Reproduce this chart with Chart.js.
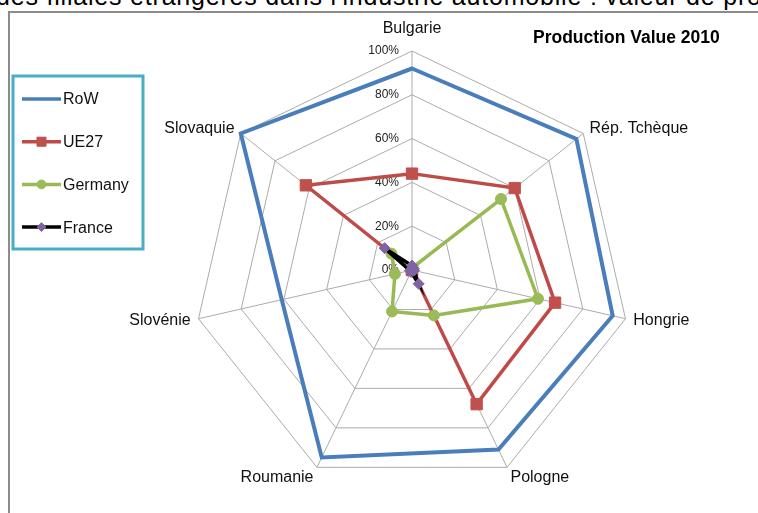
<!DOCTYPE html>
<html>
<head>
<meta charset="utf-8">
<title>Production Value 2010</title>
<script src="https://cdn.jsdelivr.net/npm/chart.js@4.4.0/dist/chart.umd.min.js"></script>
<style>
  html, body { margin: 0; padding: 0; background: #fff; }
  body {
    width: 758px; height: 513px; position: relative; overflow: hidden;
    font-family: "Liberation Sans", Arial, sans-serif; color: #000;
  }
  #topText {
    position: absolute; left: -4px; top: -16px;
    font-size: 25px; line-height: 25px; letter-spacing: 0.8px; white-space: nowrap;
  }
  #frame {
    position: absolute; left: 8px; top: 11px; width: 800px; height: 600px;
    border-left: 2px solid #8c8c8c; border-top: 2px solid #8c8c8c;
  }
  #title {
    position: absolute; left: 533px; top: 27px;
    font-weight: bold; font-size: 17.5px; white-space: nowrap;
  }
  canvas { position: absolute; left: 0; top: 0; }
</style>
</head>
<body>
<div id="topText">des filiales étrangères dans l'industrie automobile : valeur de production</div>
<div id="frame"></div>
<canvas id="myChart" width="758" height="513"></canvas>
<div id="title">Production Value 2010</div>

<script>
// Countries, clockwise from the top
const labels = ['Bulgarie', 'Rép. Tchèque', 'Hongrie', 'Pologne', 'Roumanie', 'Slovénie', 'Slovaquie'];

// Share of production value (%)
const rowValues = [92, 96, 94, 91, 95, 61, 100];
const ue27Values = [44, 60, 67, 68, 0, 0, 62];
const germanyValues = [1, 52, 59, 23, 21, 8, 12];
const franceValues = [2, 1, 1, 7, 1, 1, 16];

// Radial axis ticks
const tickMin = 0;
const tickMax = 100;
const tickStep = 20;

const seriesNames = ['RoW', 'UE27', 'Germany', 'France'];

// Tick labels drawn to the left of the vertical axis (Excel style)
const tickLabelPlugin = {
  id: 'tickLabels',
  beforeDatasetsDraw(chart) {
    const scale = chart.scales.r;
    const ctx = chart.ctx;
    ctx.save();
    ctx.font = '12px "Liberation Sans", Arial, sans-serif';
    ctx.fillStyle = '#222';
    ctx.textAlign = 'right';
    ctx.textBaseline = 'middle';
    scale.ticks.forEach((tick) => {
      const r = scale.getDistanceFromCenterForValue(tick.value);
      ctx.fillText(tick.label, scale.xCenter - 13, scale.yCenter - r);
    });
    ctx.restore();
  }
};

// Country names around the outer polygon
const pointLabelPlugin = {
  id: 'countryLabels',
  afterDraw(chart) {
    const scale = chart.scales.r;
    const ctx = chart.ctx;
    ctx.save();
    ctx.font = '16px "Liberation Sans", Arial, sans-serif';
    ctx.fillStyle = '#111';
    ctx.textBaseline = 'middle';
    chart.data.labels.forEach((label, i) => {
      const p = scale.getPointPosition(i, scale.drawingArea + 8);
      let y = p.y;
      if (p.x > scale.xCenter + 5) ctx.textAlign = 'left';
      else if (p.x < scale.xCenter - 5) ctx.textAlign = 'right';
      else ctx.textAlign = 'center';
      if (p.y < scale.yCenter - scale.drawingArea) y -= 14;
      if (p.y > scale.yCenter + scale.drawingArea * 0.8) y += 3;
      ctx.fillText(label, p.x, y);
    });
    ctx.restore();
  }
};

// Boxed legend on the left
const legendPlugin = {
  id: 'boxLegend',
  afterDraw(chart) {
    const ctx = chart.ctx;
    const box = { x: 13, y: 76, w: 130, h: 173 };
    ctx.save();
    ctx.strokeStyle = '#4BACC6';
    ctx.lineWidth = 3;
    ctx.strokeRect(box.x, box.y, box.w, box.h);

    ctx.font = '16px "Liberation Sans", Arial, sans-serif';
    ctx.textAlign = 'left';
    ctx.textBaseline = 'middle';
    chart.data.datasets.forEach((ds, i) => {
      const y = 99 + i * 42.7;
      ctx.strokeStyle = ds.borderColor;
      ctx.lineWidth = 3.5;
      ctx.beginPath();
      ctx.moveTo(22, y);
      ctx.lineTo(61, y);
      ctx.stroke();

      ctx.fillStyle = ds.pointBackgroundColor;
      ctx.strokeStyle = ds.pointBorderColor;
      ctx.lineWidth = 1;
      Chart.helpers.drawPoint(ctx, {
        pointStyle: ds.pointStyle,
        radius: ds.pointRadius * 0.8,
        rotation: 0,
        borderWidth: 1
      }, 41.5, y);

      ctx.fillStyle = '#111';
      ctx.fillText(ds.label, 63, y + 1);
    });
    ctx.restore();
  }
};

const chartContext = document.getElementById('myChart').getContext('2d');
new Chart(chartContext, {
  type: 'radar',
  data: {
    labels: labels,
    datasets: [
      {
        label: seriesNames[0],
        data: rowValues,
        borderColor: '#4A7EBB',
        backgroundColor: 'transparent',
        borderWidth: 4,
        pointRadius: 0,
        pointStyle: 'circle',
        pointBackgroundColor: '#4A7EBB',
        pointBorderColor: '#4A7EBB',
        order: 4
      },
      {
        label: seriesNames[1],
        data: ue27Values,
        borderColor: '#BE4B48',
        backgroundColor: 'transparent',
        borderWidth: 3.5,
        pointRadius: 8,
        pointStyle: 'rect',
        pointBackgroundColor: '#C0504D',
        pointBorderColor: '#C0504D',
        pointBorderWidth: 1,
        order: 3
      },
      {
        label: seriesNames[2],
        data: germanyValues,
        borderColor: '#98B954',
        backgroundColor: 'transparent',
        borderWidth: 3.5,
        pointRadius: 5.5,
        pointStyle: 'circle',
        pointBackgroundColor: '#9BBB59',
        pointBorderColor: '#9BBB59',
        pointBorderWidth: 1,
        order: 2
      },
      {
        label: seriesNames[3],
        data: franceValues,
        borderColor: '#000000',
        backgroundColor: 'transparent',
        borderWidth: 3.5,
        pointRadius: 5.5,
        pointStyle: 'rectRot',
        pointBackgroundColor: '#8064A2',
        pointBorderColor: '#8064A2',
        pointBorderWidth: 1,
        order: 1
      }
    ]
  },
  options: {
    responsive: false,
    animation: false,
    devicePixelRatio: 1,
    layout: {
      padding: { left: 193, right: 127, top: 51, bottom: 24 }
    },
    elements: {
      line: { tension: 0, fill: false }
    },
    plugins: {
      legend: { display: false },
      tooltip: { enabled: false },
      title: { display: false }
    },
    scales: {
      r: {
        min: tickMin,
        max: tickMax,
        beginAtZero: true,
        ticks: {
          display: false,
          stepSize: tickStep,
          callback: (v) => v + '%'
        },
        pointLabels: { display: false },
        grid: { color: '#ababab', lineWidth: 1 },
        angleLines: { color: '#ababab', lineWidth: 1 }
      }
    }
  },
  plugins: [tickLabelPlugin, pointLabelPlugin, legendPlugin]
});
</script>
</body>
</html>
